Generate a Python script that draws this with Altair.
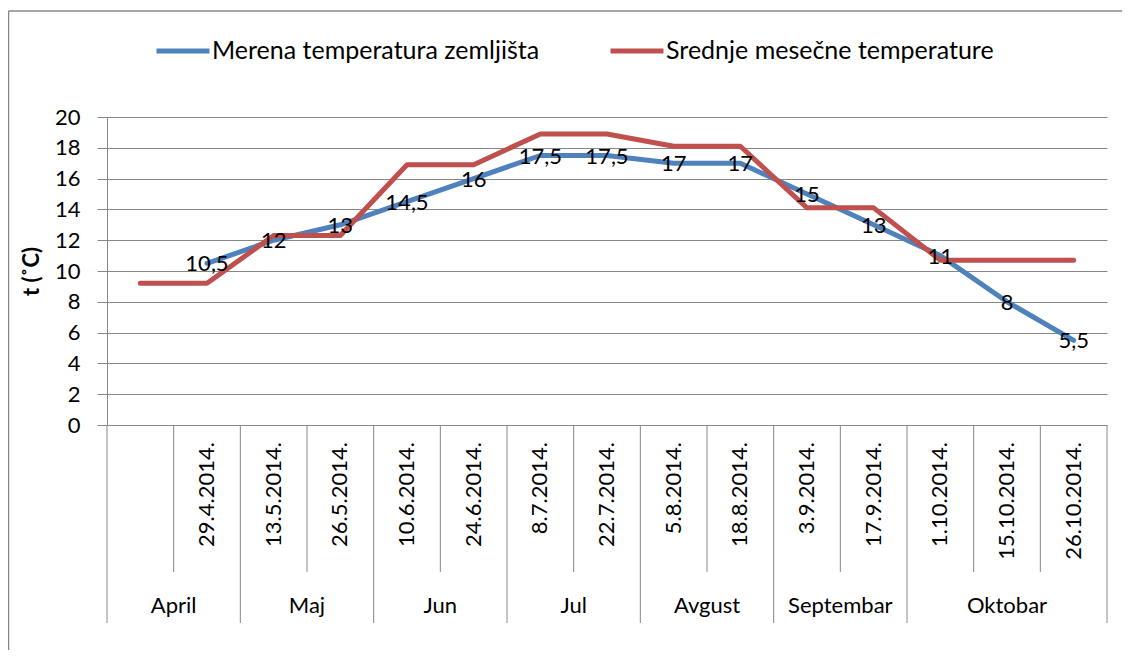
import altair as alt
import pandas as pd

# ---- data ----
dates = ["", "29.4.2014.", "13.5.2014.", "26.5.2014.", "10.6.2014.", "24.6.2014.",
         "8.7.2014.", "22.7.2014.", "5.8.2014.", "18.8.2014.", "3.9.2014.",
         "17.9.2014.", "1.10.2014.", "15.10.2014.", "26.10.2014."]
months = ["April", "April", "Maj", "Maj", "Jun", "Jun", "Jul", "Jul",
          "Avgust", "Avgust", "Septembar", "Septembar", "Oktobar", "Oktobar", "Oktobar"]
measured = [None, 10.5, 12, 13, 14.5, 16, 17.5, 17.5, 17, 17, 15, 13, 11, 8, 5.5]
monthly_mean = [9.2, 9.2, 12.3, 12.3, 16.9, 16.9, 18.9, 18.9, 18.1, 18.1,
                14.1, 14.1, 10.7, 10.7, 10.7]
series_names = ["Merena temperatura zemljišta", "Srednje mesečne temperature"]
colors = ["#4F81BD", "#C0504D"]
y_title = "t (˚C)"
y_ticks = [0, 2, 4, 6, 8, 10, 12, 14, 16, 18, 20]

FONT = "Lato"
FS = 22
GRID = "#878787"

n = len(dates)
idx = list(range(n))

blue_df = pd.DataFrame({"i": idx, "value": measured, "series": series_names[0]}).dropna()
red_df = pd.DataFrame({"i": idx, "value": monthly_mean, "series": series_names[1]})
cat_df = pd.DataFrame({"i": idx, "date": dates, "month": months})
month_df = cat_df.groupby("month", sort=False)["i"].mean().reset_index()

bounds = [b - 0.5 for b in range(n + 1)]
is_month_edge = []
for b in range(n + 1):
    if b == 0 or b == n:
        is_month_edge.append(True)
    else:
        is_month_edge.append(months[b - 1] != months[b])
bound_df = pd.DataFrame({"b": bounds, "edge": is_month_edge})

xscale = alt.Scale(domain=[-0.5, n - 0.5], nice=False, zero=False)
yscale = alt.Scale(domain=[0, 20], nice=False)
cscale = alt.Scale(domain=series_names, range=colors)

X = alt.X("i:Q", scale=xscale, axis=None)

yaxis = alt.Axis(
    values=y_ticks, tickCount=11, labelOverlap=False, tickSize=10, tickColor=GRID,
    domainColor=GRID, gridColor=GRID, grid=True,
    labelFontSize=FS, labelColor="black", labelFont=FONT, labelPadding=17,
    title=y_title, titleFontSize=FS, titleFont=FONT, titleFontWeight="bold",
    titleColor="black", titleAngle=270, titleX=-76, titleY=154,
    titleAlign="center", titleBaseline="middle"
)
Y = alt.Y("value:Q", scale=yscale, axis=yaxis)

inner_sep = alt.Chart(bound_df).transform_filter("!datum.edge").mark_rule(
    color=GRID, strokeWidth=1
).encode(x=alt.X("b:Q", scale=xscale, axis=None), y=alt.value(308), y2=alt.value(455))

month_sep = alt.Chart(bound_df).transform_filter("datum.edge").mark_rule(
    color=GRID, strokeWidth=1
).encode(x=alt.X("b:Q", scale=xscale, axis=None), y=alt.value(308), y2=alt.value(506))

date_labels = alt.Chart(cat_df).mark_text(
    angle=270, align="right", baseline="middle", fontSize=FS, color="black", font=FONT
).encode(x=X, y=alt.value(325), text="date:N")

month_labels = alt.Chart(month_df).mark_text(
    align="center", baseline="middle", fontSize=FS, color="black", font=FONT
).encode(x=X, y=alt.value(489), text="month:N")

legend = alt.Legend(
    title=None, orient="none", direction="horizontal", legendX=47, legendY=-95,
    symbolType="stroke", symbolStrokeWidth=5, symbolSize=2809,
    labelFontSize=25, labelFont=FONT, labelColor="black", labelOffset=0,
    labelLimit=0, columnPadding=60, padding=0
)

blue_line = alt.Chart(blue_df).mark_line(strokeWidth=5, strokeCap="round", strokeJoin="round").encode(
    x=X, y=Y, color=alt.Color("series:N", scale=cscale, legend=legend)
)
red_line = alt.Chart(red_df).mark_line(strokeWidth=5, strokeCap="round", strokeJoin="round").encode(
    x=X, y=Y, color=alt.Color("series:N", scale=cscale, legend=legend)
)

value_labels = alt.Chart(blue_df).transform_calculate(
    label="replace(toString(datum.value), '.', ',')"
).mark_text(align="center", baseline="middle", fontSize=FS, color="black", font=FONT, dy=1).encode(
    x=X, y=Y, text="label:N"
)

one = pd.DataFrame({"k": [0]})
frame_left = alt.Chart(one).mark_rule(color=GRID, strokeWidth=1.5).encode(
    x=alt.value(-98.5), y=alt.value(-106), y2=alt.value(600)
)
frame_top = alt.Chart(one).mark_rule(color=GRID, strokeWidth=1.5).encode(
    x=alt.value(-98.5), x2=alt.value(1100), y=alt.value(-106)
)

chart = alt.layer(
    inner_sep, month_sep, date_labels, month_labels, blue_line, red_line,
    value_labels, frame_left, frame_top
).properties(
    width=1000, height=308,
    autosize=alt.AutoSizeParams(type="none"),
    padding={"left": 99, "top": 109, "right": 15, "bottom": 225},
).configure(font=FONT).configure_view(stroke="transparent")

chart.save("out.html", embed_options={"renderer": "svg", "actions": False})
